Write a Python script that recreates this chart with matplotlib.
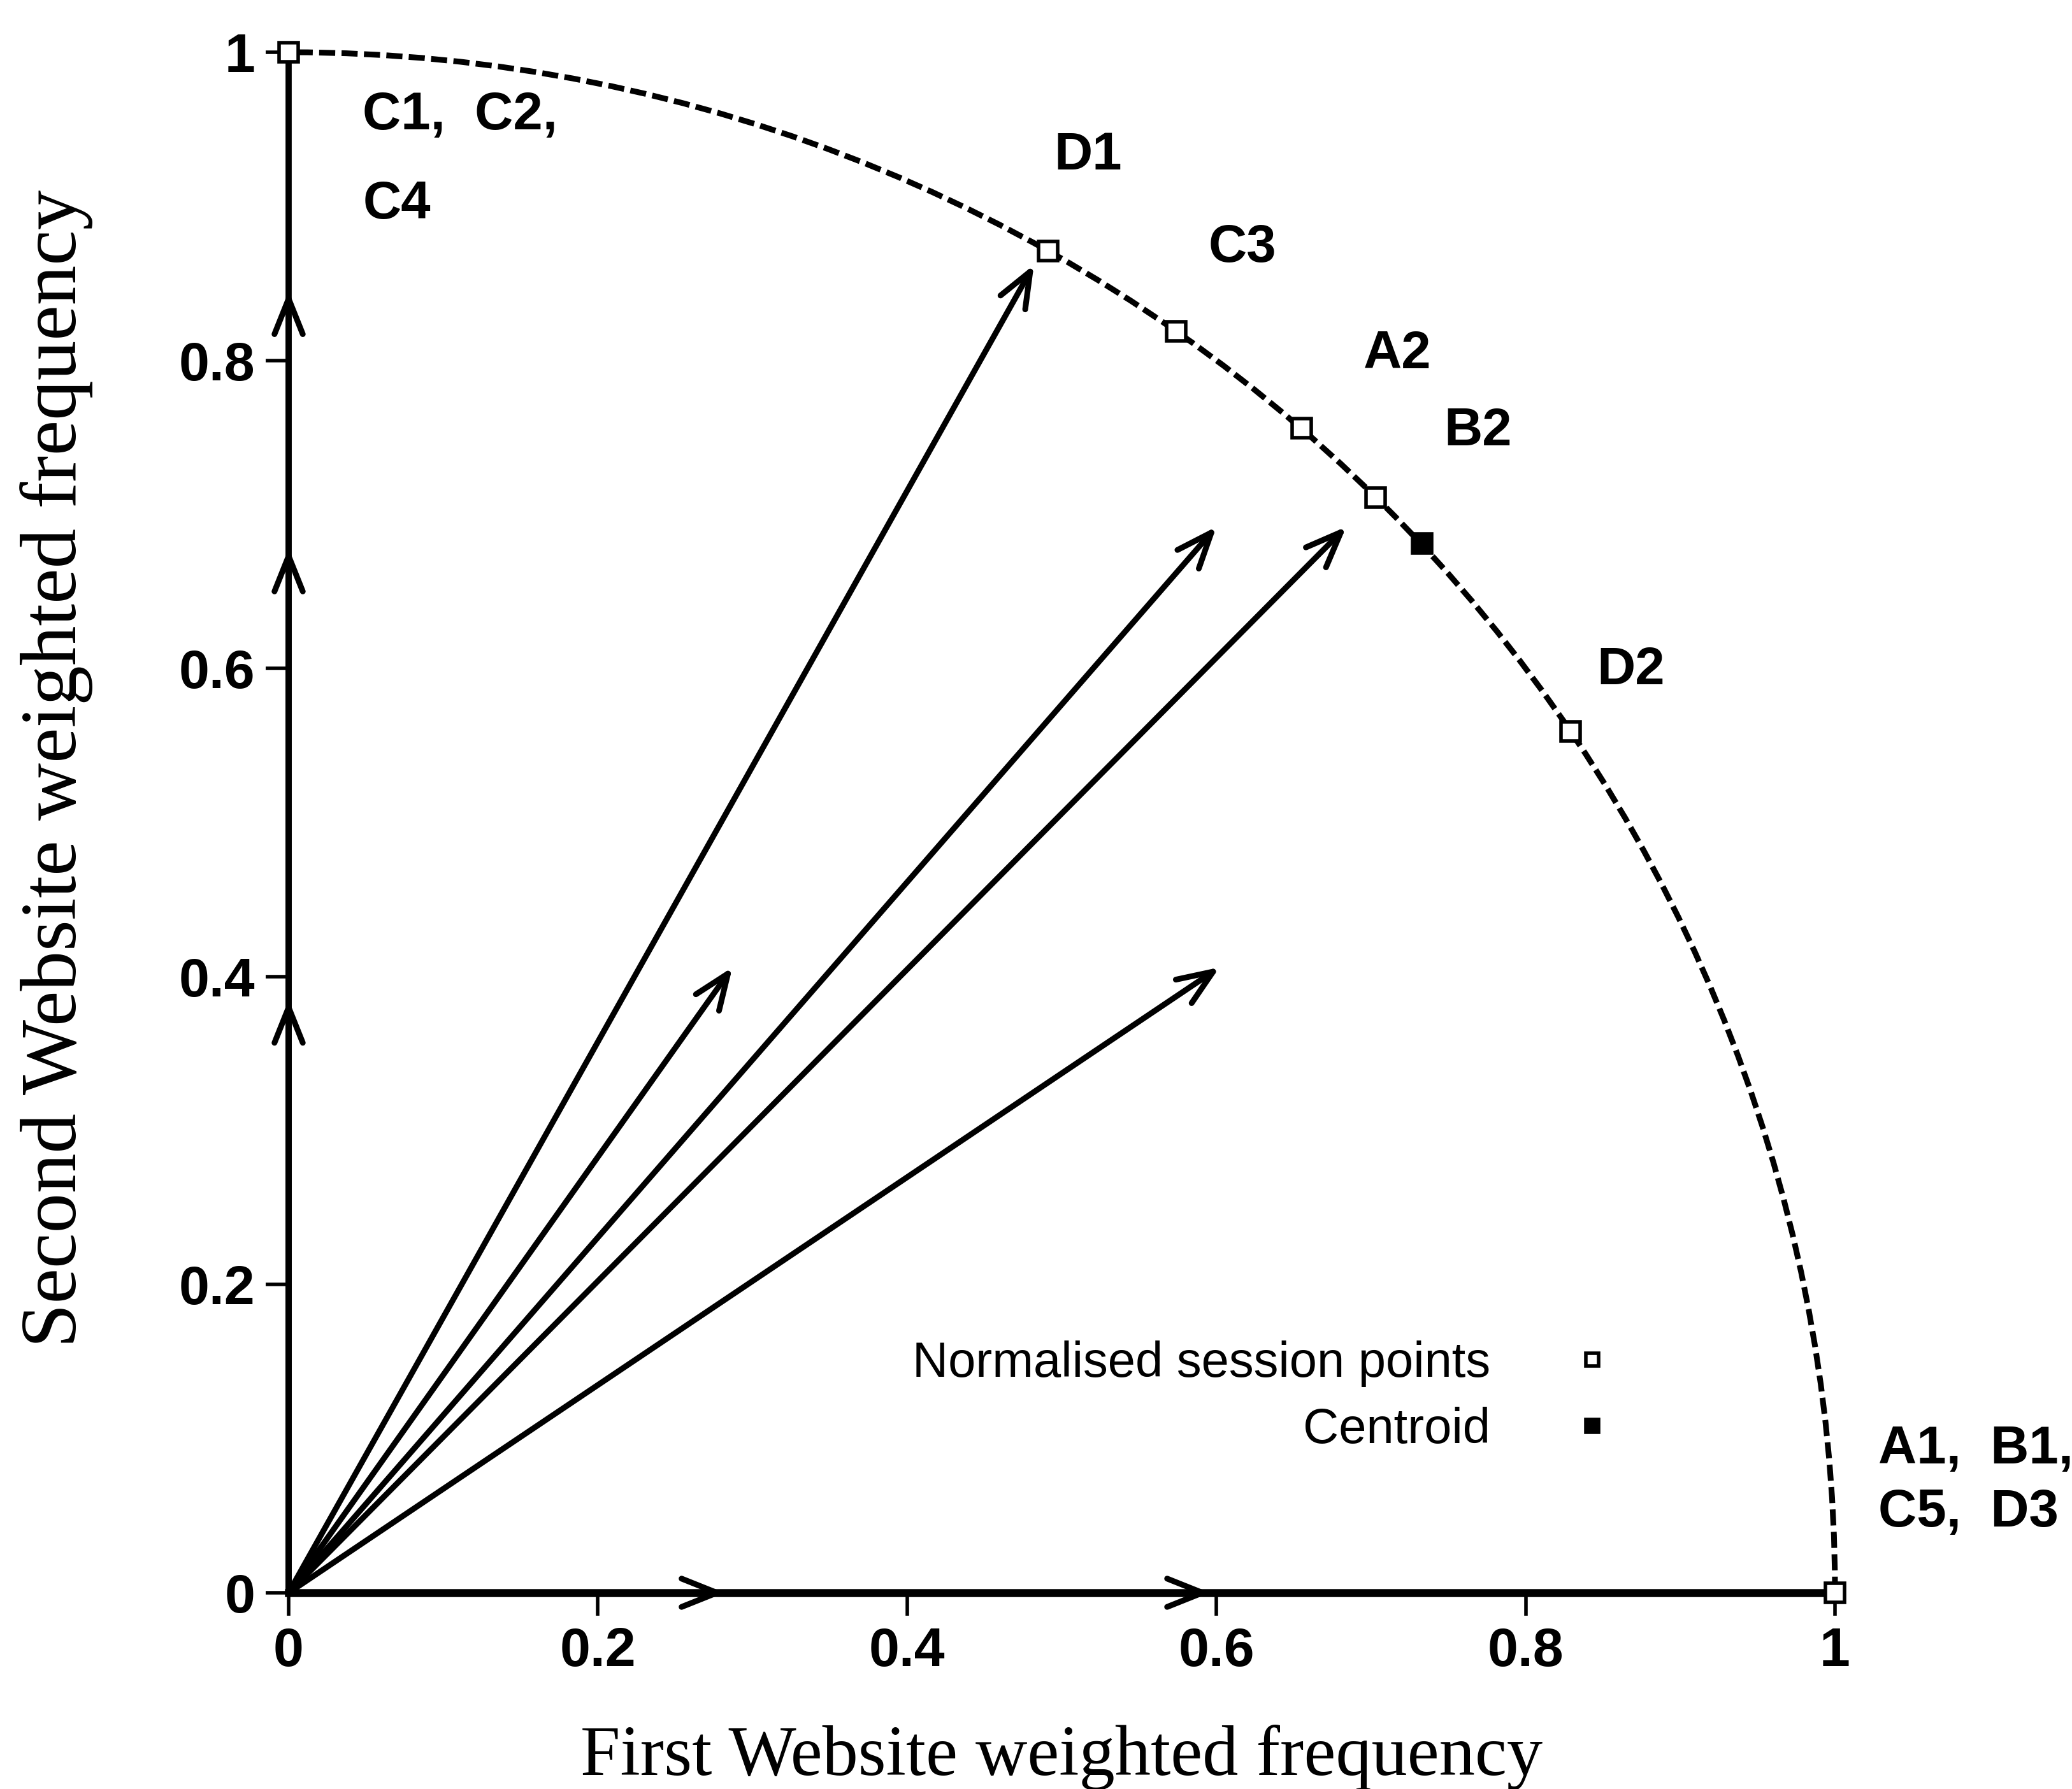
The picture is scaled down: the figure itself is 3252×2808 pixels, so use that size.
#!/usr/bin/env python3

# session vectors and their normalised points on the unit circle

import matplotlib
matplotlib.use('Agg')
import matplotlib.pyplot as plt
from matplotlib.patches import Arc
from matplotlib.lines import Line2D

# raw session vectors (first site, second site), drawn as arrows from the origin
vec_x = [0.0, 0.0, 0.0, 0.282, 0.596, 0.287, 0.482, 0.600, 0.684, 0.602]
vec_y = [0.385, 0.678, 0.845, 0.0, 0.0, 0.406, 0.862, 0.692, 0.692, 0.406]

# normalised session points
pt_x = [0.0, 0.491, 0.574, 0.655, 0.703, 0.829, 1.0]
pt_y = [1.0, 0.871, 0.819, 0.756, 0.711, 0.559, 0.0]

# centroid of the normalised points
cen_x = [0.733]
cen_y = [0.681]

# session names next to the points
names = ['C1,  C2,', 'C4', 'D1', 'C3', 'A2', 'B2', 'D2', 'A1,  B1,', 'C5,  D3']
name_pos = [(0.048, 0.959), (0.048, 0.901), (0.495, 0.933), (0.595, 0.873),
            (0.695, 0.804), (0.747, 0.754), (0.846, 0.599), (1.028, 0.093),
            (1.028, 0.052)]

ticks = [0, 0.2, 0.4, 0.6, 0.8, 1]
tick_labels = ['0', '0.2', '0.4', '0.6', '0.8', '1']

plt.rcParams['font.family'] = ['Liberation Sans', 'DejaVu Sans']

W, H = 3252, 2808
fig = plt.figure(figsize=(W / 100, H / 100), dpi=100)
ax = fig.add_axes([453 / W, 1 - 2500 / H, 2427 / W, 2418 / H])
ax.set_xlim(0, 1)
ax.set_ylim(0, 1)
for side in ['top', 'right']:
    ax.spines[side].set_visible(False)
ax.spines['left'].set_linewidth(7)
ax.spines['bottom'].set_linewidth(9)

ax.set_xticks(ticks)
ax.set_xticklabels(tick_labels)
ax.set_yticks(ticks)
ax.set_yticklabels(tick_labels)
ax.tick_params(direction='out', length=26, width=4, pad=12, labelsize=62)
for lbl in ax.get_xticklabels() + ax.get_yticklabels():
    lbl.set_fontweight('bold')

# unit circle the normalised points sit on
ax.add_patch(Arc((0, 0), 2, 2, theta1=0, theta2=90, lw=6.5, color='black',
                 ls=(0, (2.8, 1.1)), clip_on=False, zorder=3))

for vx, vy in zip(vec_x, vec_y):
    ax.annotate('', xy=(vx, vy), xytext=(0, 0),
                arrowprops=dict(arrowstyle='->,head_length=40,head_width=16',
                                mutation_scale=1, lw=6.5, color='black',
                                shrinkA=0, shrinkB=0))

ax.plot(pt_x, pt_y, ls='none', marker='s', ms=22, mfc='white', mec='black',
        mew=4, clip_on=False, zorder=5)
ax.plot(cen_x, cen_y, ls='none', marker='s', ms=22, mfc='black', mec='black',
        mew=4, clip_on=False, zorder=5)

for name, (tx, ty) in zip(names, name_pos):
    ax.text(tx, ty, name, fontsize=60, fontweight='bold', ha='left',
            va='center', clip_on=False)

handles = [Line2D([], [], ls='none', marker='s', ms=15, mfc='white',
                  mec='black', mew=4),
           Line2D([], [], ls='none', marker='s', ms=15, mfc='black',
                  mec='black', mew=4)]
ax.legend(handles, ['Normalised session points', 'Centroid'],
          markerfirst=False, frameon=False, loc='center',
          bbox_to_anchor=(0.628, 0.127), fontsize=56, handlelength=0.6,
          handletextpad=1.75, labelspacing=0.4, borderpad=0, borderaxespad=0)

ax.set_xlabel('First Website weighted frequency', family='Liberation Serif',
              fontsize=81)
ax.xaxis.set_label_coords(0.5, -0.107)
ax.xaxis.label.set_va('center')
ax.set_ylabel('Second Website weighted frequency', family='Liberation Serif',
              fontsize=90)
ax.yaxis.set_label_coords(-0.150, 0.535)
ax.yaxis.label.set_va('center')

fig.savefig('out.png', dpi=100)
